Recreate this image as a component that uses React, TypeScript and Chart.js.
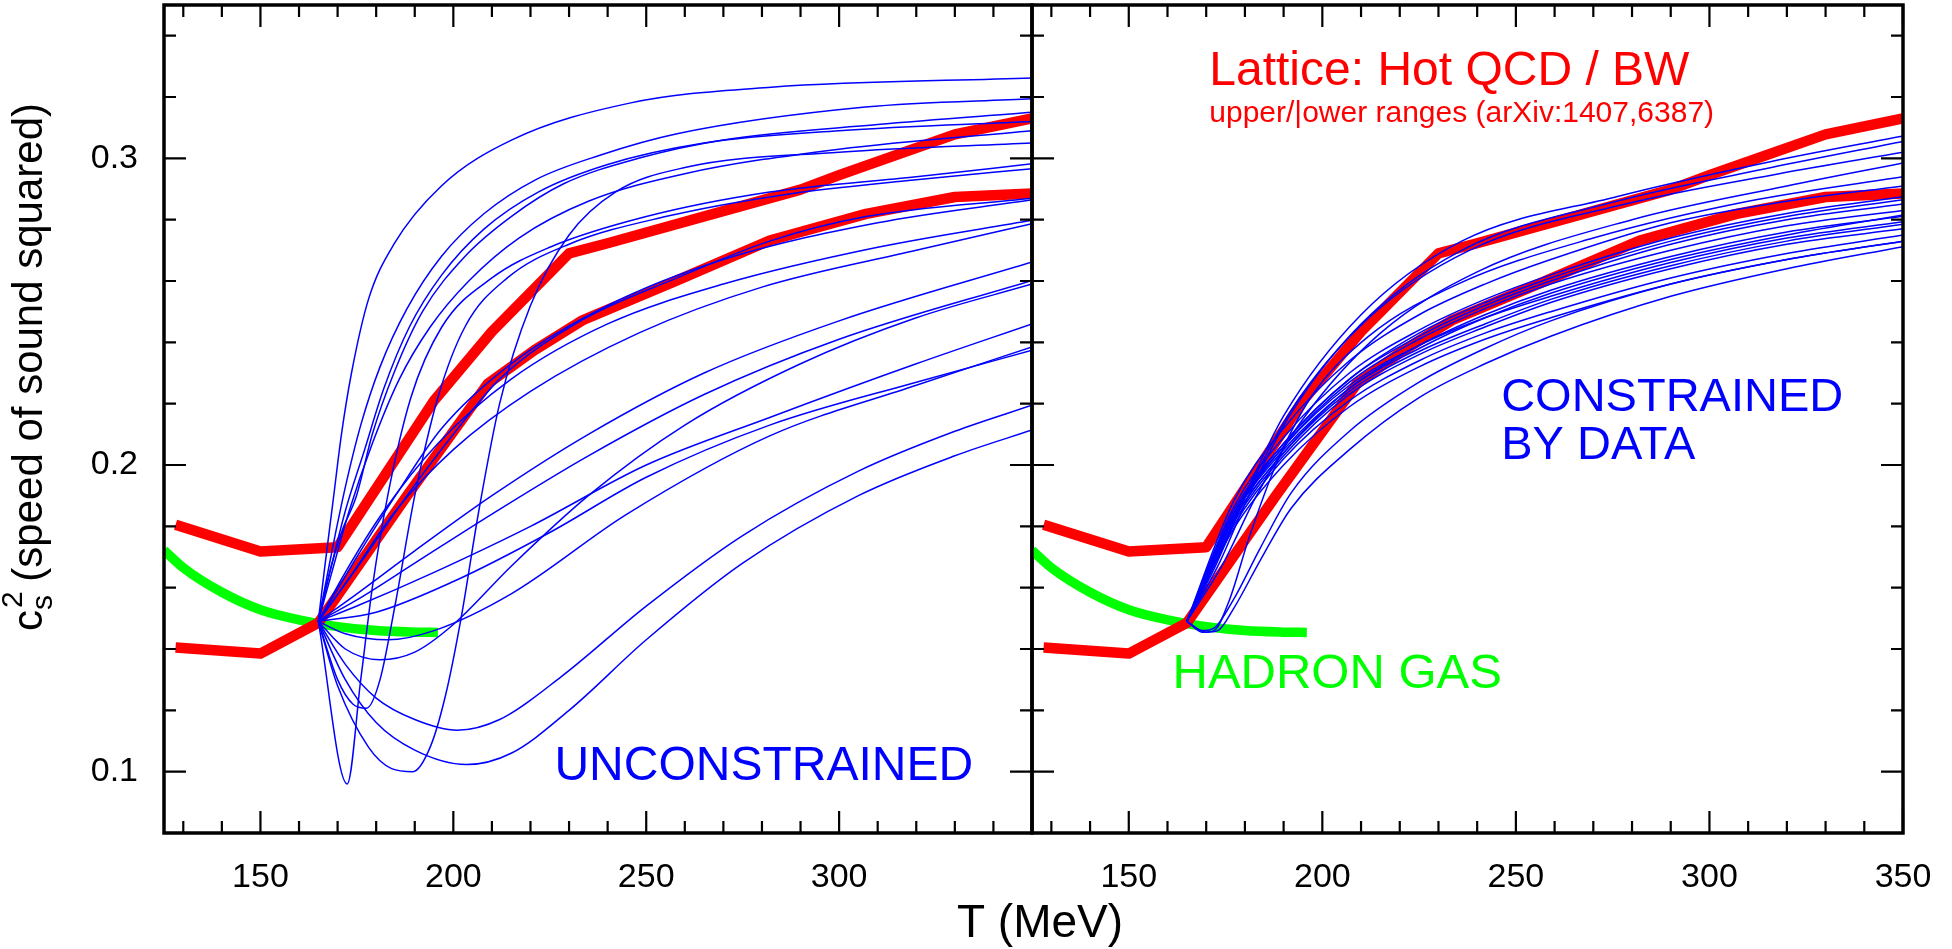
import React, { useEffect, useRef } from "react";
import { Chart, registerables } from "chart.js";

Chart.register(...registerables);

type Pt = [number, number];

const FONT = '"Liberation Sans", Arial, Helvetica, sans-serif';

// ---- axes ----
const T_MIN = 125;
const T_MAX = 350;
const CS2_MIN = 0.08;
const CS2_MAX = 0.35;
const xMajorTicksLeft = [150, 200, 250, 300];
const xMajorTicksRight = [150, 200, 250, 300, 350];
const xMinorTicks = [130, 140, 160, 170, 180, 190, 210, 220, 230, 240, 260, 270, 280, 290, 310, 320, 330, 340];
const yMajorTicks = [0.1, 0.2, 0.3];
const yMinorTicks = [0.12, 0.14, 0.16, 0.18, 0.22, 0.24, 0.26, 0.28, 0.32, 0.34];
const yTickLabels = ["0.1", "0.2", "0.3"];

// ---- lattice (red) upper / lower ranges ----
const latticeUpper: Pt[] = [
  [128, 0.1805], [150, 0.1718], [170, 0.1732], [195, 0.221], [210, 0.2435], [230, 0.269],
  [240, 0.2723], [290, 0.2898], [300, 0.2945], [330, 0.3078], [350, 0.313],
];
const latticeLower: Pt[] = [
  [128, 0.1405], [150, 0.1385], [165, 0.1485], [188, 0.19], [209, 0.2266], [221, 0.2374],
  [233.5, 0.2472], [258, 0.2602], [282, 0.2732], [307, 0.2819], [330, 0.2874], [350, 0.2885],
];

// ---- hadron gas (green) ----
const hadronGas: Pt[] = [
  [125, 0.1722], [130, 0.1665], [140, 0.1585], [150, 0.1528], [160, 0.1495], [170, 0.1473],
  [180, 0.146], [190, 0.1455], [196, 0.1454],
];

// ---- unconstrained EoS (left panel, blue) ----
const unconstrainedCurves: Pt[][] = [
  [[165, 0.149], [166.5, 0.165], [168.8, 0.188], [171, 0.21], [173.6, 0.23], [178, 0.254], [184.6, 0.272], [196.9, 0.291], [215.2, 0.306], [245.7, 0.318], [282.4, 0.3232], [350, 0.3262]],
  [[165, 0.149], [167, 0.162], [169.5, 0.178], [172.4, 0.195], [176, 0.213], [181, 0.232], [188, 0.251], [196.9, 0.268], [208, 0.282], [221.3, 0.293], [238, 0.301], [258, 0.308], [306.8, 0.3167], [350, 0.3194]],
  [[165, 0.149], [167.5, 0.163], [171, 0.178], [174.9, 0.19], [179, 0.21], [184.6, 0.23], [192, 0.25], [203, 0.268], [215, 0.281], [228.6, 0.2917], [248, 0.3], [270, 0.306], [310, 0.311], [350, 0.315]],
  [[165, 0.149], [168, 0.165], [172, 0.185], [177, 0.205], [182, 0.225], [188.6, 0.245], [197, 0.262], [208, 0.277], [222, 0.289], [240, 0.298], [265, 0.305], [300, 0.309], [350, 0.312]],
  [[165, 0.149], [168.5, 0.165], [173, 0.185], [179, 0.207], [186, 0.228], [194, 0.245], [204, 0.26], [217, 0.274], [235, 0.286], [260, 0.295], [300, 0.303], [350, 0.309]],
  [[165, 0.149], [172.5, 0.096], [176, 0.13], [179, 0.16], [183, 0.19], [189, 0.222], [197, 0.245], [210, 0.261], [225, 0.271], [250, 0.281], [282, 0.289], [320, 0.294], [350, 0.2982]],
  [[165, 0.149], [170, 0.13], [174, 0.122], [177.5, 0.1207], [181, 0.13], [185, 0.155], [190, 0.19], [196, 0.222], [203, 0.245], [214, 0.261], [230, 0.272], [255, 0.281], [285, 0.288], [320, 0.293], [350, 0.2966]],
  [[165, 0.149], [170, 0.128], [178, 0.108], [184, 0.101], [189.5, 0.1], [194, 0.108], [198, 0.125], [202, 0.15], [206.6, 0.185], [212, 0.22], [220, 0.252], [230, 0.275], [242, 0.289], [260, 0.297], [300, 0.302], [350, 0.305]],
  [[165, 0.149], [177, 0.17], [188, 0.19], [200, 0.21], [212, 0.228], [233, 0.247], [258, 0.261], [282, 0.273], [307, 0.281], [350, 0.287]],
  [[165, 0.149], [175, 0.17], [185, 0.19], [197, 0.212], [215, 0.233], [240, 0.252], [270, 0.267], [310, 0.279], [350, 0.2865]],
  [[165, 0.149], [172, 0.165], [182, 0.185], [196, 0.207], [215, 0.228], [240, 0.246], [270, 0.259], [310, 0.271], [350, 0.2798]],
  [[165, 0.149], [174, 0.165], [185, 0.185], [200, 0.205], [220, 0.224], [248, 0.243], [280, 0.258], [320, 0.27], [350, 0.2787]],
  [[165, 0.149], [175, 0.158], [190, 0.172], [210, 0.19], [235, 0.21], [265, 0.23], [300, 0.247], [350, 0.2662]],
  [[165, 0.149], [175, 0.156], [190, 0.168], [210, 0.184], [235, 0.203], [265, 0.223], [300, 0.241], [350, 0.2602]],
  [[165, 0.149], [172, 0.14], [181, 0.1365], [190, 0.139], [200, 0.148], [215, 0.167], [235, 0.19], [260, 0.213], [290, 0.233], [320, 0.248], [350, 0.259]],
  [[165, 0.149], [175, 0.154], [195, 0.165], [220, 0.18], [250, 0.2], [282, 0.2155], [320, 0.233], [350, 0.246]],
  [[165, 0.149], [172, 0.145], [183, 0.143], [195, 0.146], [215, 0.158], [245, 0.184], [282, 0.2095], [320, 0.226], [350, 0.2385]],
  [[165, 0.149], [180, 0.152], [200, 0.162], [225, 0.178], [250, 0.196], [282, 0.213], [320, 0.227], [350, 0.2374]],
  [[165, 0.149], [172, 0.135], [180, 0.124], [190, 0.117], [201, 0.1135], [212, 0.117], [228, 0.131], [250, 0.154], [275, 0.177], [305, 0.198], [330, 0.211], [350, 0.2195]],
  [[165, 0.149], [172, 0.13], [180, 0.116], [190, 0.107], [203.4, 0.1023], [215, 0.106], [230, 0.12], [250, 0.143], [275, 0.168], [305, 0.19], [330, 0.203], [350, 0.2114]],
];

// ---- EoS constrained by data (right panel, blue) ----
const constrainedCurves: Pt[][] = [
  [[165, 0.149], [172, 0.167], [180, 0.19], [190, 0.216], [210, 0.249], [236, 0.273], [276, 0.2875], [316, 0.299], [350, 0.3073]],
  [[165, 0.149], [173, 0.167], [181, 0.19], [191, 0.215], [210, 0.246], [236, 0.27], [276, 0.286], [316, 0.297], [350, 0.3055]],
  [[165, 0.149], [174, 0.167], [183, 0.19], [195, 0.215], [215, 0.243], [240, 0.263], [280, 0.28], [320, 0.291], [350, 0.2985]],
  [[165, 0.149], [172, 0.166], [181, 0.192], [192, 0.218], [212, 0.248], [238, 0.27], [278, 0.285], [318, 0.295], [350, 0.302]],
  [[165, 0.149], [177, 0.186], [190, 0.209], [207, 0.23], [225, 0.244], [242, 0.254], [259, 0.262], [290, 0.274], [320, 0.282], [350, 0.2875]],
  [[165, 0.149], [177, 0.185], [190, 0.207], [207, 0.228], [225, 0.242], [242, 0.252], [259, 0.26], [290, 0.272], [320, 0.28], [350, 0.2851]],
  [[165, 0.149], [177, 0.183], [190, 0.205], [207, 0.225], [225, 0.239], [242, 0.249], [259, 0.257], [290, 0.268], [320, 0.276], [350, 0.2811]],
  [[165, 0.149], [177, 0.184], [190, 0.206], [207, 0.226], [225, 0.239], [242, 0.248], [259, 0.255], [290, 0.266], [320, 0.274], [350, 0.2793]],
  [[165, 0.149], [177, 0.181], [190, 0.203], [207, 0.223], [225, 0.236], [242, 0.245], [259, 0.253], [290, 0.264], [320, 0.272], [350, 0.277]],
  [[165, 0.149], [177, 0.182], [190, 0.204], [207, 0.224], [225, 0.237], [242, 0.246], [259, 0.254], [290, 0.265], [320, 0.273], [350, 0.2785]],
  [[165, 0.149], [177, 0.18], [190, 0.202], [207, 0.221], [225, 0.234], [242, 0.243], [259, 0.25], [290, 0.261], [320, 0.269], [350, 0.275]],
  [[165, 0.149], [177, 0.183], [190, 0.206], [207, 0.227], [225, 0.241], [242, 0.251], [259, 0.259], [290, 0.27], [320, 0.278], [350, 0.283]],
  [[165, 0.149], [177, 0.184], [190, 0.207], [207, 0.228], [225, 0.243], [242, 0.253], [259, 0.261], [290, 0.273], [320, 0.281], [350, 0.2865]],
  [[165, 0.149], [177, 0.179], [190, 0.2], [207, 0.219], [225, 0.232], [242, 0.241], [259, 0.248], [290, 0.259], [320, 0.267], [350, 0.273]],
  [[165, 0.149], [177, 0.182], [190, 0.204], [207, 0.225], [225, 0.238], [242, 0.248], [259, 0.256], [290, 0.267], [320, 0.275], [350, 0.2815]],
  [[165, 0.149], [170, 0.1455], [173, 0.146], [177, 0.153], [184, 0.169], [192, 0.186], [207, 0.205], [225, 0.222], [242, 0.233], [259, 0.242], [290, 0.255], [320, 0.264], [350, 0.2712]],
  [[165, 0.149], [169, 0.146], [172, 0.1468], [177, 0.156], [184, 0.173], [192, 0.191], [207, 0.211], [225, 0.227], [242, 0.238], [259, 0.247], [290, 0.259], [320, 0.267], [350, 0.273]],
  [[165, 0.149], [177, 0.188], [190, 0.212], [207, 0.234], [225, 0.249], [242, 0.259], [259, 0.267], [290, 0.279], [320, 0.286], [350, 0.291]],
  [[165, 0.149], [169, 0.1455], [172, 0.146], [176, 0.156], [181, 0.176], [188, 0.2], [197, 0.222], [212, 0.242], [235, 0.259], [270, 0.274], [310, 0.286], [350, 0.294]],
];

// ---- text annotations (anchored in data coordinates: T, cs2 at baseline) ----
type Note = { text: string; t: number; v: number; size: number; color: string };
const leftNotes: Note[] = [
  { text: "UNCONSTRAINED", t: 226.2, v: 0.0974, size: 48, color: "#0000ff" },
];
const rightNotes: Note[] = [
  { text: "Lattice: Hot QCD / BW", t: 170.8, v: 0.3238, size: 48, color: "#ff0000" },
  { text: "upper/|ower ranges (arXiv:1407,6387)", t: 170.8, v: 0.3118, size: 30, color: "#ff0000" },
  { text: "CONSTRAINED", t: 246.2, v: 0.2176, size: 47, color: "#0000ff" },
  { text: "BY DATA", t: 246.2, v: 0.2018, size: 47, color: "#0000ff" },
  { text: "HADRON GAS", t: 161.3, v: 0.1274, size: 49, color: "#00ff00" },
];

const toXY = (pts: Pt[]) => pts.map(([x, y]) => ({ x, y }));

function buildDatasets(blue: Pt[][]) {
  const ds: any[] = [];
  ds.push({
    data: toXY(hadronGas), borderColor: "#00ff00", borderWidth: 9.5,
    cubicInterpolationMode: "monotone", pointRadius: 0, order: 3, borderCapStyle: "butt",
  });
  for (const r of [latticeUpper, latticeLower]) {
    ds.push({
      data: toXY(r), borderColor: "#ff0000", borderWidth: 10.5, tension: 0,
      pointRadius: 0, order: 2, borderJoinStyle: "round", borderCapStyle: "butt",
    });
  }
  for (const c of blue) {
    ds.push({
      data: toXY(c), borderColor: "#0000ff", borderWidth: 1.5,
      cubicInterpolationMode: "monotone", pointRadius: 0, order: 1,
    });
  }
  return ds;
}

function framePlugin(xMajor: number[]) {
  return {
    id: "frameTicks",
    afterDraw(chart: any) {
      const { ctx, chartArea: a, scales } = chart;
      const xs = scales.x;
      const ys = scales.y;
      ctx.save();
      ctx.strokeStyle = "#000";
      ctx.lineWidth = 2.2;
      ctx.beginPath();
      const xt = (vals: number[], len: number) => {
        for (const v of vals) {
          const px = xs.getPixelForValue(v);
          ctx.moveTo(px, a.bottom);
          ctx.lineTo(px, a.bottom - len);
          ctx.moveTo(px, a.top);
          ctx.lineTo(px, a.top + len);
        }
      };
      const yt = (vals: number[], len: number) => {
        for (const v of vals) {
          const py = ys.getPixelForValue(v);
          ctx.moveTo(a.left, py);
          ctx.lineTo(a.left + len, py);
          ctx.moveTo(a.right, py);
          ctx.lineTo(a.right - len, py);
        }
      };
      xt(xMajor, 22);
      xt(xMinorTicks, 12);
      yt(yMajorTicks, 22);
      yt(yMinorTicks, 12);
      ctx.stroke();
      ctx.lineWidth = 3.5;
      ctx.strokeRect(a.left, a.top, a.right - a.left, a.bottom - a.top);
      ctx.restore();
    },
  };
}

function notesPlugin(notes: Note[]) {
  return {
    id: "notes",
    afterDraw(chart: any) {
      const { ctx, scales } = chart;
      ctx.save();
      ctx.textAlign = "left";
      ctx.textBaseline = "alphabetic";
      for (const n of notes) {
        ctx.font = `${n.size}px ${FONT}`;
        ctx.fillStyle = n.color;
        ctx.fillText(n.text, scales.x.getPixelForValue(n.t), scales.y.getPixelForValue(n.v));
      }
      ctx.restore();
    },
  };
}

const yTitlePlugin = {
  id: "yTitle",
  afterDraw(chart: any) {
    const { ctx, chartArea } = chart;
    const cy = chartArea.top + 362;
    ctx.save();
    ctx.translate(26, cy);
    ctx.rotate(-Math.PI / 2);
    ctx.fillStyle = "#000";
    ctx.textBaseline = "alphabetic";
    const big = `42px ${FONT}`;
    const small = `30px ${FONT}`;
    ctx.font = big;
    const wc = ctx.measureText("c").width;
    const rest = " (speed of sound squared)";
    const wr = ctx.measureText(rest).width;
    ctx.font = small;
    const ws = Math.max(ctx.measureText("s").width, ctx.measureText("2").width);
    const total = wc + ws + wr;
    let x = -total / 2;
    const base = 16;
    ctx.font = big;
    ctx.fillText("c", x, base);
    x += wc;
    ctx.font = small;
    ctx.fillText("s", x, base + 10);
    ctx.fillText("2", x + 2, base - 20);
    x += ws;
    ctx.font = big;
    ctx.fillText(rest, x, base);
    ctx.restore();
  },
};

const xTitlePlugin = {
  id: "xTitle",
  afterDraw(chart: any) {
    const { ctx, chartArea } = chart;
    ctx.save();
    ctx.font = `46px ${FONT}`;
    ctx.fillStyle = "#000";
    ctx.textAlign = "center";
    ctx.textBaseline = "alphabetic";
    ctx.fillText("T (MeV)", chartArea.left + 8, chart.height - 12);
    ctx.restore();
  },
};

function makeOptions(xMajor: number[], showY: boolean, yWidth: number, padRight: number) {
  return {
    animation: false as const,
    responsive: false,
    maintainAspectRatio: false,
    devicePixelRatio: 1,
    events: [] as any[],
    layout: { padding: { top: 5, right: padRight, left: 0, bottom: 0 } },
    plugins: { legend: { display: false }, tooltip: { enabled: false }, title: { display: false } },
    scales: {
      x: {
        type: "linear" as const,
        min: T_MIN,
        max: T_MAX,
        grid: { display: false, drawTicks: false },
        border: { display: false },
        afterBuildTicks: (s: any) => {
          s.ticks = xMajor.map((v) => ({ value: v }));
        },
        afterFit: (s: any) => {
          s.height = 116;
          s.paddingLeft = 0;
          s.paddingRight = 0;
        },
        ticks: {
          font: { family: FONT, size: 34 },
          color: "#000",
          padding: 24,
          maxRotation: 0,
          autoSkip: false,
          callback: (v: any) => String(v),
        },
      },
      y: {
        type: "linear" as const,
        min: CS2_MIN,
        max: CS2_MAX,
        grid: { display: false, drawTicks: false },
        border: { display: false },
        afterBuildTicks: (s: any) => {
          s.ticks = yMajorTicks.map((v) => ({ value: v }));
        },
        afterFit: (s: any) => {
          s.width = yWidth;
          s.paddingTop = 0;
          s.paddingBottom = 0;
        },
        ticks: {
          display: showY,
          font: { family: FONT, size: 34 },
          color: "#000",
          padding: 26,
          callback: (v: any) => yTickLabels[yMajorTicks.indexOf(v)] ?? "",
        },
      },
    },
  };
}

export default function App() {
  const leftRef = useRef<HTMLCanvasElement>(null);
  const rightRef = useRef<HTMLCanvasElement>(null);

  useEffect(() => {
    const left = new Chart(leftRef.current!, {
      type: "line",
      data: { datasets: buildDatasets(unconstrainedCurves) },
      options: makeOptions(xMajorTicksLeft, true, 164, 8) as any,
      plugins: [framePlugin(xMajorTicksLeft), notesPlugin(leftNotes), yTitlePlugin],
    });
    const right = new Chart(rightRef.current!, {
      type: "line",
      data: { datasets: buildDatasets(constrainedCurves) },
      options: makeOptions(xMajorTicksRight, false, 132, 49) as any,
      plugins: [framePlugin(xMajorTicksRight), notesPlugin(rightNotes), xTitlePlugin],
    });
    return () => {
      left.destroy();
      right.destroy();
    };
  }, []);

  return (
    <div style={{ position: "absolute", left: 0, top: 0, width: 1952, height: 949, overflow: "hidden", background: "#fff" }}>
      <canvas ref={leftRef} width={1040} height={949} style={{ position: "absolute", left: 0, top: 0, width: 1040, height: 949 }} />
      <canvas ref={rightRef} width={1052} height={949} style={{ position: "absolute", left: 900, top: 0, width: 1052, height: 949 }} />
    </div>
  );
}
